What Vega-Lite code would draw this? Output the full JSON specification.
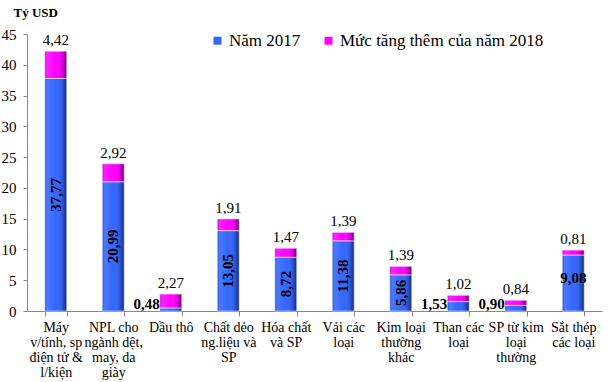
{
  "$schema": "https://vega.github.io/schema/vega-lite/v6.json",
  "width": 575,
  "height": 277,
  "autosize": {"type": "none"},
  "padding": {"left": 27, "top": 34, "right": 7, "bottom": 71},
  "background": "white",
  "config": {
    "view": {"stroke": null},
    "font": "Liberation Serif",
    "locale": {"number": {"decimal": ",", "thousands": ".", "grouping": [3], "currency": ["", ""]}},
    "legend": {"padding": 0},
    "axisY": {
      "grid": false, "labelOverlap": false, "labelFlush": false,
      "labelFont": "Liberation Serif", "labelFontSize": 15, "labelColor": "#000", "labelPadding": 7,
      "tickSize": 4, "tickColor": "#888", "domainColor": "#888",
      "titleAngle": 0, "titleX": -14, "titleY": -22, "titleAlign": "left",
      "titleBaseline": "middle", "titleFont": "Liberation Serif", "titleFontSize": 13, "titleFontWeight": "bold", "titleColor": "#000"
    }
  },
  "data": {
    "values": [
      {"cat": "Máy\nv/tính, sp\nđiện tử &\nl/kiện", "series": "Năm 2017", "value": 37.77},
      {"cat": "Máy\nv/tính, sp\nđiện tử &\nl/kiện", "series": "Mức tăng thêm của năm 2018", "value": 4.42},
      {"cat": "NPL cho\nngành dệt,\nmay, da\ngiày", "series": "Năm 2017", "value": 20.99},
      {"cat": "NPL cho\nngành dệt,\nmay, da\ngiày", "series": "Mức tăng thêm của năm 2018", "value": 2.92},
      {"cat": "Dầu thô", "series": "Năm 2017", "value": 0.48},
      {"cat": "Dầu thô", "series": "Mức tăng thêm của năm 2018", "value": 2.27},
      {"cat": "Chất dẻo\nng.liệu và\nSP", "series": "Năm 2017", "value": 13.05},
      {"cat": "Chất dẻo\nng.liệu và\nSP", "series": "Mức tăng thêm của năm 2018", "value": 1.91},
      {"cat": "Hóa chất\nvà SP", "series": "Năm 2017", "value": 8.72},
      {"cat": "Hóa chất\nvà SP", "series": "Mức tăng thêm của năm 2018", "value": 1.47},
      {"cat": "Vải các\nloại", "series": "Năm 2017", "value": 11.38},
      {"cat": "Vải các\nloại", "series": "Mức tăng thêm của năm 2018", "value": 1.39},
      {"cat": "Kim loại\nthường\nkhác", "series": "Năm 2017", "value": 5.86},
      {"cat": "Kim loại\nthường\nkhác", "series": "Mức tăng thêm của năm 2018", "value": 1.39},
      {"cat": "Than các\nloại", "series": "Năm 2017", "value": 1.53},
      {"cat": "Than các\nloại", "series": "Mức tăng thêm của năm 2018", "value": 1.02},
      {"cat": "SP từ kim\nloại\nthường", "series": "Năm 2017", "value": 0.90},
      {"cat": "SP từ kim\nloại\nthường", "series": "Mức tăng thêm của năm 2018", "value": 0.84},
      {"cat": "Sắt thép\ncác loại", "series": "Năm 2017", "value": 9.08},
      {"cat": "Sắt thép\ncác loại", "series": "Mức tăng thêm của năm 2018", "value": 0.81}
    ]
  },
  "encoding": {
    "x": {
      "field": "cat", "type": "nominal", "sort": null,
      "scale": {"paddingInner": 0.62, "paddingOuter": 0.31},
      "axis": {
        "title": null, "labelAngle": 0, "labelExpr": "split(datum.label, '\\n')",
        "labelFont": "Liberation Serif", "labelFontSize": 14, "labelLineHeight": 15,
        "labelColor": "#000", "labelPadding": 4, "labelBaseline": "top", "labelOverlap": false, "labelLimit": 0,
        "tickBand": "extent", "tickSize": 5, "tickColor": "#888", "domainColor": "#888"
      }
    }
  },
  "layer": [
    {
      "mark": {"type": "bar"},
      "encoding": {
        "y": {
          "field": "value", "type": "quantitative", "stack": "zero",
          "scale": {"domain": [0, 45], "nice": false},
          "axis": {"values": [0, 5, 10, 15, 20, 25, 30, 35, 40, 45], "title": "Tỷ USD"}
        },
        "color": {
          "field": "series", "type": "nominal",
          "scale": {"domain": ["Năm 2017", "Mức tăng thêm của năm 2018"], "range": ["#3366FF", "#FF00FF"]},
          "legend": {
            "title": null, "orient": "none", "direction": "horizontal", "legendX": 182, "legendY": -2,
            "labelFont": "Liberation Serif", "labelFontSize": 17, "labelColor": "#000", "labelOffset": 3, "labelLimit": 400,
            "symbolType": "square", "symbolSize": 64, "symbolStrokeWidth": 0, "columnPadding": 19
          }
        },
        "order": {"field": "series", "sort": "descending"}
      }
    },
    {
      "mark": {
        "type": "bar", "stroke": "rgba(255,255,255,0.45)", "strokeWidth": 1,
        "fill": {"gradient": "linear", "x1": 0, "x2": 1, "y1": 0, "y2": 0,
          "stops": [
            {"offset": 0, "color": "rgba(0,0,0,0.2)"},
            {"offset": 0.12, "color": "rgba(255,255,255,0.12)"},
            {"offset": 0.5, "color": "rgba(255,255,255,0)"},
            {"offset": 0.8, "color": "rgba(0,0,0,0.15)"},
            {"offset": 1, "color": "rgba(0,0,0,0.55)"}
          ]}
      },
      "encoding": {
        "y": {"field": "value", "type": "quantitative", "stack": "zero",
          "scale": {"domain": [0, 45], "nice": false},
          "axis": {"values": [0, 5, 10, 15, 20, 25, 30, 35, 40, 45], "title": "Tỷ USD"}},
        "detail": {"field": "series"},
        "order": {"field": "series", "sort": "descending"}
      }
    },
    {
      "transform": [
        {"filter": "datum.series === 'Năm 2017' && datum.value >= 5 && indexof(datum.cat, 'Sắt thép') < 0"}
      ],
      "mark": {"type": "text", "angle": 270, "fontWeight": "bold", "fontSize": 15, "font": "Liberation Serif", "baseline": "middle", "align": "center", "color": "#000"},
      "encoding": {
        "y": {"field": "value", "type": "quantitative", "stack": "zero", "bandPosition": 0.5,
          "scale": {"domain": [0, 45], "nice": false},
          "axis": {"values": [0, 5, 10, 15, 20, 25, 30, 35, 40, 45], "title": "Tỷ USD"}},
        "text": {"field": "value", "type": "quantitative", "format": ".2f"}
      }
    },
    {
      "transform": [
        {"filter": "datum.series === 'Năm 2017' && indexof(datum.cat, 'Sắt thép') >= 0"}
      ],
      "mark": {"type": "text", "fontWeight": "bold", "fontSize": 15, "font": "Liberation Serif", "baseline": "middle", "align": "center", "color": "#000", "dy": -5},
      "encoding": {
        "y": {"field": "value", "type": "quantitative", "stack": "zero", "bandPosition": 0.5,
          "scale": {"domain": [0, 45], "nice": false},
          "axis": {"values": [0, 5, 10, 15, 20, 25, 30, 35, 40, 45], "title": "Tỷ USD"}},
        "text": {"field": "value", "type": "quantitative", "format": ".2f"}
      }
    },
    {
      "transform": [
        {"filter": "datum.series === 'Năm 2017' && datum.value < 5"}
      ],
      "mark": {"type": "text", "fontWeight": "bold", "fontSize": 15, "font": "Liberation Serif", "baseline": "bottom", "align": "right", "color": "#000", "dx": -11, "dy": 1},
      "encoding": {
        "y": {"datum": 0, "type": "quantitative",
          "scale": {"domain": [0, 45], "nice": false},
          "axis": {"values": [0, 5, 10, 15, 20, 25, 30, 35, 40, 45], "title": "Tỷ USD"}},
        "text": {"field": "value", "type": "quantitative", "format": ".2f"}
      }
    },
    {
      "transform": [
        {"joinaggregate": [{"op": "sum", "field": "value", "as": "total"}], "groupby": ["cat"]},
        {"filter": "datum.series !== 'Năm 2017'"}
      ],
      "mark": {"type": "text", "fontSize": 15, "font": "Liberation Serif", "baseline": "bottom", "align": "center", "color": "#000", "dy": -3},
      "encoding": {
        "y": {"field": "total", "type": "quantitative", "stack": null,
          "scale": {"domain": [0, 45], "nice": false},
          "axis": {"values": [0, 5, 10, 15, 20, 25, 30, 35, 40, 45], "title": "Tỷ USD"}},
        "text": {"field": "value", "type": "quantitative", "format": ".2f"}
      }
    }
  ]
}
